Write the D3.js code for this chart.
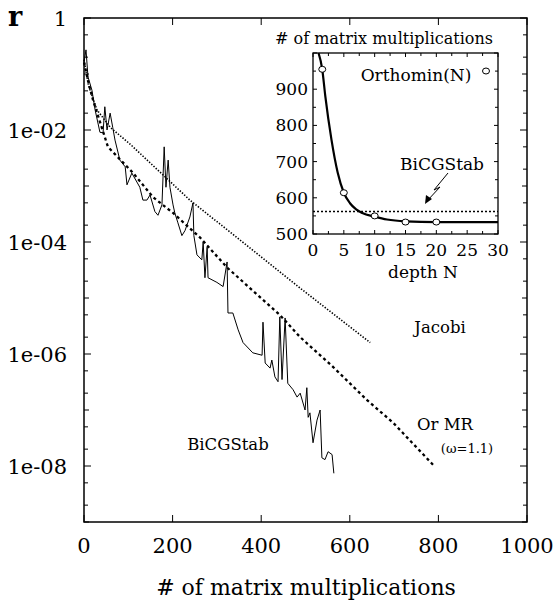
<!DOCTYPE html>
<html>
<head>
<meta charset="utf-8">
<script src="https://cdn.jsdelivr.net/npm/d3@7"></script>
<style>
  body { margin: 0; background: #fff; }
  svg { display: block; }
  text { font-family: "DejaVu Serif", serif; fill: #000; }
</style>
</head>
<body>
<div id="chart"></div>
<script>
// Main chart data: residual r vs number of matrix multiplications
const jacobiX = [0, 10, 29, 60, 104, 149, 239, 375, 488, 646];
const jacobiR = [0.18, 0.063, 0.023, 0.011, 5.6e-3, 2.6e-3, 5.6e-4, 7.8e-5, 1.5e-5, 1.6e-6];

const ormrX = [0, 10, 20, 54, 111, 156, 201, 262, 323, 442, 488, 562, 639, 698, 788];
const ormrR = [0.16, 0.071, 0.035, 5.0e-3, 1.7e-3, 6.3e-4, 3.3e-4, 1.2e-4, 3.5e-5, 5.0e-6, 2.0e-6, 5.9e-7, 1.5e-7, 5.9e-8, 1.05e-8];

const bicgX = [0, 4.5, 9, 18, 25, 36, 43, 47, 52, 59, 65, 70, 81, 93, 97, 108, 126, 133, 142, 149,
  160, 167, 176, 181, 185, 190, 194, 201, 205, 212, 221, 228, 239, 246, 248, 255, 266, 269, 273, 278,
  280, 300, 314, 323, 325, 336, 348, 359, 381, 402, 404, 409, 420, 424, 431, 438, 442, 447, 454, 460,
  472, 481, 488, 499, 503, 506, 510, 517, 526, 533, 537, 544, 551, 560, 564];
const bicgR = [0.16, 0.27, 0.089, 0.051, 0.023, 9.1e-3, 8.9e-3, 0.026, 0.01, 0.02, 0.011, 6.6e-3, 2.9e-3, 2.2e-3, 1.05e-3, 1.7e-3, 9.5e-4, 5.6e-4, 5.6e-4, 6.9e-4,
  3.5e-4, 3.0e-4, 4.6e-4, 5.0e-3, 9.5e-4, 2.9e-3, 9.5e-4, 4.6e-4, 3.3e-4, 2.2e-4, 1.3e-4, 1.6e-4, 2.8e-4, 5.0e-4, 1.3e-4, 5.9e-5, 4.8e-5, 1.0e-4, 2.3e-5, 8.1e-5,
  2.3e-5, 1.9e-5, 1.6e-5, 4.4e-5, 5.4e-6, 5.4e-6, 2.7e-6, 1.6e-6, 1.05e-6, 9.5e-7, 3.7e-6, 6.9e-7, 5.6e-7, 7.8e-7, 3.9e-7, 3.2e-7, 4.6e-6, 3.5e-7, 4.4e-6, 3.0e-7,
  2.3e-7, 1.7e-7, 2.0e-7, 1.0e-7, 2.5e-7, 7.4e-8, 8.9e-8, 2.6e-8, 6.6e-8, 1.0e-7, 1.4e-8, 1.3e-8, 1.8e-8, 1.6e-8, 7.4e-9];

const xTicks = [0, 200, 400, 600, 800, 1000];
const yLabelTicks = [1, 1e-2, 1e-4, 1e-6, 1e-8];
const yLabels = ["1", "1e-02", "1e-04", "1e-06", "1e-08"];

// Inset data: matrix multiplications vs depth N
const orthoN = [1.5, 5, 10, 15, 20];
const orthoM = [955, 614, 550, 533, 533];
const curveN = [0.9, 1.5, 2, 3, 4, 5, 6, 7, 8, 10, 12, 15, 20, 30];
const curveM = [1000, 955, 880, 760, 670, 614, 585, 568, 558, 548, 540, 535, 533, 533];
const bicgInset = 562;
const insetXTicks = [0, 5, 10, 15, 20, 25, 30];
const insetYTicks = [500, 600, 700, 800, 900];

const W = 557, H = 600;
const svg = d3.select("#chart").append("svg").attr("width", W).attr("height", H);

const x = d3.scaleLinear().domain([0, 1000]).range([84, 527]);
const y = d3.scaleLog().domain([1e-9, 1]).range([522, 18]);

// minor log ticks at 1, 2, 5 x 10^k
const yMinor = [];
for (let k = -9; k <= 0; k++) {
  [1, 2, 5].forEach((m) => {
    const v = m * Math.pow(10, k);
    if (v <= 1 && v >= 1e-9) yMinor.push(v);
  });
}

const ax = svg.append("g").attr("class", "axes");

function tickLen(v) {
  const e = Math.log10(v);
  if (Math.abs(e - Math.round(e)) < 1e-6) return Math.round(e) % 2 === 0 ? 7 : 5;
  return 4;
}

yMinor.forEach((v) => {
  const py = y(v), L = tickLen(v);
  ax.append("line").attr("x1", 84).attr("x2", 84 + L).attr("y1", py).attr("y2", py)
    .attr("stroke", "#000").attr("stroke-width", 1);
  ax.append("line").attr("x1", 527).attr("x2", 527 - L).attr("y1", py).attr("y2", py)
    .attr("stroke", "#000").attr("stroke-width", 1);
});

xTicks.forEach((v) => {
  ax.append("line").attr("x1", x(v)).attr("x2", x(v)).attr("y1", 522).attr("y2", 515)
    .attr("stroke", "#000").attr("stroke-width", 1);
  ax.append("line").attr("x1", x(v)).attr("x2", x(v)).attr("y1", 18).attr("y2", 25)
    .attr("stroke", "#000").attr("stroke-width", 1);
  ax.append("text").attr("x", x(v)).attr("y", 553).attr("text-anchor", "middle")
    .attr("font-size", "21px").text(v);
});

yLabelTicks.forEach((v, i) => {
  ax.append("text").attr("x", 67).attr("y", y(v) + 8).attr("text-anchor", "end")
    .attr("font-size", "21px").text(yLabels[i]);
});

ax.append("rect").attr("x", 84).attr("y", 18).attr("width", 443).attr("height", 504)
  .attr("fill", "none").attr("stroke", "#000").attr("stroke-width", 1.5);

ax.append("text").attr("x", 8).attr("y", 26).attr("font-size", "27px")
  .attr("font-weight", "bold").text("r");

ax.append("text").attr("x", 306).attr("y", 595).attr("text-anchor", "middle")
  .attr("font-size", "22px").text("# of matrix multiplications");

// curves
const line = d3.line().x((d) => x(d[0])).y((d) => y(d[1]));

svg.append("path").datum(d3.zip(jacobiX, jacobiR)).attr("d", line)
  .attr("fill", "none").attr("stroke", "#000").attr("stroke-width", 1.6)
  .attr("stroke-dasharray", "1.4,1.6");

svg.append("path").datum(d3.zip(ormrX, ormrR)).attr("d", line)
  .attr("fill", "none").attr("stroke", "#000").attr("stroke-width", 2.3)
  .attr("stroke-dasharray", "3,3");

svg.append("path").datum(d3.zip(bicgX, bicgR)).attr("d", line)
  .attr("fill", "none").attr("stroke", "#000").attr("stroke-width", 1);

// labels
svg.append("text").attr("x", 440).attr("y", 333).attr("text-anchor", "middle")
  .attr("font-size", "16.5px").text("Jacobi");
svg.append("text").attr("x", 445).attr("y", 430).attr("text-anchor", "middle")
  .attr("font-size", "16.5px").text("Or MR");
svg.append("text").attr("x", 467).attr("y", 453).attr("text-anchor", "middle")
  .attr("font-size", "13px").text("(ω=1.1)");
svg.append("text").attr("x", 228).attr("y", 450).attr("text-anchor", "middle")
  .attr("font-size", "16.5px").text("BiCGStab");

// inset
const ix = d3.scaleLinear().domain([0, 30]).range([313, 498]);
const iy = d3.scaleLinear().domain([500, 1000]).range([234, 53]);
const inset = svg.append("g").attr("class", "inset");

d3.range(0, 31, 2.5).forEach((v) => {
  const L = v % 5 === 0 ? 4 : 3;
  inset.append("line").attr("x1", ix(v)).attr("x2", ix(v)).attr("y1", 234).attr("y2", 234 - L)
    .attr("stroke", "#000");
  inset.append("line").attr("x1", ix(v)).attr("x2", ix(v)).attr("y1", 53).attr("y2", 53 + L)
    .attr("stroke", "#000");
});
d3.range(500, 1001, 50).forEach((v) => {
  const L = v % 100 === 0 ? 4 : 3;
  inset.append("line").attr("x1", 313).attr("x2", 313 + L).attr("y1", iy(v)).attr("y2", iy(v))
    .attr("stroke", "#000");
  inset.append("line").attr("x1", 498).attr("x2", 498 - L).attr("y1", iy(v)).attr("y2", iy(v))
    .attr("stroke", "#000");
});
insetXTicks.forEach((v) => {
  inset.append("text").attr("x", ix(v)).attr("y", 256).attr("text-anchor", "middle")
    .attr("font-size", "17px").text(v);
});
insetYTicks.forEach((v) => {
  inset.append("text").attr("x", 308).attr("y", iy(v) + 6).attr("text-anchor", "end")
    .attr("font-size", "17px").text(v);
});
inset.append("rect").attr("x", 313).attr("y", 53).attr("width", 185).attr("height", 181)
  .attr("fill", "none").attr("stroke", "#000").attr("stroke-width", 1.3);

inset.append("text").attr("x", 384).attr("y", 44).attr("text-anchor", "middle")
  .attr("font-size", "16px").text("# of matrix multiplications");
inset.append("text").attr("x", 423).attr("y", 278).attr("text-anchor", "middle")
  .attr("font-size", "17px").text("depth N");

inset.append("line").attr("x1", ix(0)).attr("x2", ix(30)).attr("y1", iy(bicgInset)).attr("y2", iy(bicgInset))
  .attr("stroke", "#000").attr("stroke-width", 1.6).attr("stroke-dasharray", "2,2");

const iline = d3.line().x((d) => ix(d[0])).y((d) => iy(d[1])).curve(d3.curveMonotoneX);
inset.append("path").datum(d3.zip(curveN, curveM)).attr("d", iline)
  .attr("fill", "none").attr("stroke", "#000").attr("stroke-width", 2.2);

inset.selectAll("ellipse.pt").data(d3.zip(orthoN, orthoM)).enter().append("ellipse")
  .attr("class", "pt").attr("cx", (d) => ix(d[0])).attr("cy", (d) => iy(d[1]))
  .attr("rx", 3.5).attr("ry", 3).attr("fill", "#fff").attr("stroke", "#000").attr("stroke-width", 1);

inset.append("text").attr("x", 416).attr("y", 81).attr("text-anchor", "middle")
  .attr("font-size", "17px").text("Orthomin(N)");
inset.append("ellipse").attr("cx", 486).attr("cy", 71).attr("rx", 3.5).attr("ry", 3)
  .attr("fill", "#fff").attr("stroke", "#000");
inset.append("text").attr("x", 442).attr("y", 170).attr("text-anchor", "middle")
  .attr("font-size", "17px").text("BiCGStab");

// zig-zag arrow pointing at the BiCGStab line
inset.append("path").attr("d", "M448,173 L434,190 L440,187 L427,201")
  .attr("fill", "none").attr("stroke", "#000").attr("stroke-width", 1);
inset.append("path").attr("d", "M425,204 L426,195 L432,199 Z").attr("fill", "#000");
</script>
</body>
</html>
